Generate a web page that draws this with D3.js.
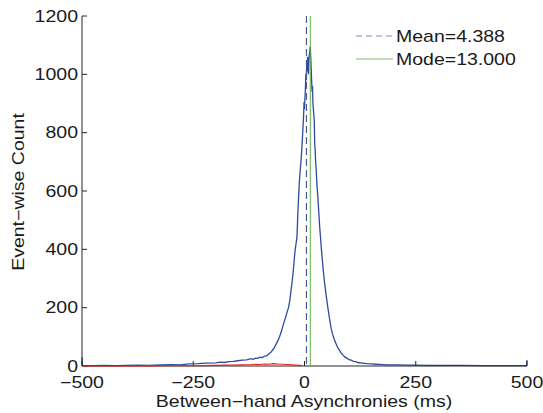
<!DOCTYPE html>
<html lang="en">
<head>
<meta charset="UTF-8">
<title>Between-hand Asynchronies</title>
<script src="https://cdnjs.cloudflare.com/ajax/libs/d3/7.8.5/d3.min.js"></script>
<style>
  body { margin: 0; background: #fff; }
  text { font-family: "Liberation Sans", Arial, sans-serif; font-size: 16px; fill: #1a1a1a; }
</style>
</head>
<body>
<div id="chart"></div>
<script>
// histogram of all asynchronies (ms, count)
const allX = [-500,-499,-475,-450,-425,-400,-375,-350,-325,-300,-280,-260,-240,-220,-200,-190,-180,-170,-160,-150,-140,-130,-120,-115,-110,-105,-100,-95,-90,-85,-80,-76,-72,-68,-64,-60,-56,-52,-48,-44,-40,-36,-33,-30,-27,-25,-23,-21,-19,-17,-15,-14,-12,-10,-8,-6,-4,-3,-2,-1,0,1,2,3,4,5,6,7,8,9,10,11,12,13,14,15,16,17,18,19,20,21,22,23,24,25,26,27,28,29,30,32,34,36,38,40,42,44,46,48,50,52,54,56,58,60,63,66,70,74,78,82,86,90,95,100,105,110,115,120,130,140,150,160,175,190,210,230,250,275,300,350,400,450,499,500];
const allY = [30,2,1,2,1,2,3,2,4,5,4,7,8,10,11,13,12,15,16,18,20,21,25,23,27,26,30,29,34,35,42,46,54,62,74,86,100,118,140,160,180,200,225,262,300,330,365,398,420,440,520,555,620,665,700,745,800,830,860,905,880,920,950,1000,980,1030,1010,1060,1040,1000,1050,1070,1080,1095,1060,1020,980,940,960,900,880,860,840,760,740,700,680,650,620,600,580,530,480,440,400,365,330,300,275,250,228,205,185,165,145,128,110,95,80,65,55,45,38,32,27,22,20,16,15,12,10,8,7,6,5,4,4,3,3,2,2,2,1,1,1,20];

// negative-side subset (red)
const negX = [-500,-400,-350,-300,-250,-200,-180,-160,-140,-120,-110,-100,-90,-80,-70,-60,-50,-40,-30,-20,-10,-5];
const negY = [0,0,0.5,1,1,2,3,3,4,5,6,5,7,6,8,7,6,5,4,3,2,1];

const meanVal = 4.388;
const modeVal = 13;
const xTicks = [-500, -250, 0, 250, 500];
const yTicks = [0, 200, 400, 600, 800, 1000, 1200];

const W = 543, H = 413;
const svg = d3.select("#chart").append("svg").attr("width", W).attr("height", H);

const x = d3.scaleLinear().domain([-500, 500]).range([82, 527]);
const y = d3.scaleLinear().domain([0, 1200]).range([366, 16]);

const stretch = 1.22;
function label(px, py, str, anchor, rot) {
  svg.append("text")
    .attr("transform", `translate(${px},${py}) rotate(${rot || 0}) scale(${stretch},1)`)
    .attr("text-anchor", anchor)
    .attr("dy", "0.35em")
    .text(str);
}

const line = d3.line().x(d => x(d[0])).y(d => y(d[1]));

// blue histogram
svg.append("path")
  .datum(d3.zip(allX, allY))
  .attr("d", line)
  .attr("fill", "none")
  .attr("stroke", "#2e4c9f")
  .attr("stroke-width", 1.3);

// axes
svg.append("line").attr("x1", x(-500)).attr("x2", x(500)).attr("y1", y(0)).attr("y2", y(0))
  .attr("stroke", "#262626");
svg.append("line").attr("x1", x(-500)).attr("x2", x(-500)).attr("y1", y(0)).attr("y2", y(1200))
  .attr("stroke", "#262626");

// inward ticks
svg.selectAll(".xt").data(xTicks).enter().append("line")
  .attr("x1", d => x(d)).attr("x2", d => x(d))
  .attr("y1", y(0)).attr("y2", y(0) - 5)
  .attr("stroke", "#262626");
svg.selectAll(".yt").data(yTicks).enter().append("line")
  .attr("x1", x(-500)).attr("x2", x(-500) + 5)
  .attr("y1", d => y(d)).attr("y2", d => y(d))
  .attr("stroke", "#262626");

// red line, drawn over the axis on the negative side
svg.append("path")
  .datum(d3.zip(negX, negY))
  .attr("d", line)
  .attr("fill", "none")
  .attr("stroke", "#e8231d")
  .attr("stroke-width", 1.1);

// mean and mode
svg.append("line")
  .attr("x1", x(meanVal)).attr("x2", x(meanVal))
  .attr("y1", y(1200)).attr("y2", y(0))
  .attr("stroke", "#4f5896").attr("stroke-width", 1.2)
  .attr("stroke-dasharray", "7,4");
svg.append("line")
  .attr("x1", x(modeVal)).attr("x2", x(modeVal))
  .attr("y1", y(1200)).attr("y2", y(0))
  .attr("stroke", "#5fae4c").attr("stroke-width", 1);

// tick labels
xTicks.forEach(t => label(x(t), 382, t < 0 ? "\u2212" + Math.abs(t) : String(t), "middle"));
yTicks.forEach(t => label(78, y(t), String(t), "end"));

// axis titles
label(304, 401, "Between\u2212hand Asynchronies (ms)", "middle");
label(18, 192, "Event\u2212wise Count", "middle", -90);

// legend
svg.append("line").attr("x1", 356).attr("x2", 393).attr("y1", 36).attr("y2", 36)
  .attr("stroke", "#7f89c2").attr("stroke-width", 1.2).attr("stroke-dasharray", "6,4");
svg.append("line").attr("x1", 356).attr("x2", 393).attr("y1", 59).attr("y2", 59)
  .attr("stroke", "#7dbb6c").attr("stroke-width", 1);
svg.append("text").attr("transform", `translate(396,36) scale(${stretch},1)`).attr("dy", "0.35em").text("Mean=4.388");
svg.append("text").attr("transform", `translate(396,59) scale(${stretch},1)`).attr("dy", "0.35em").text("Mode=13.000");
</script>
</body>
</html>
